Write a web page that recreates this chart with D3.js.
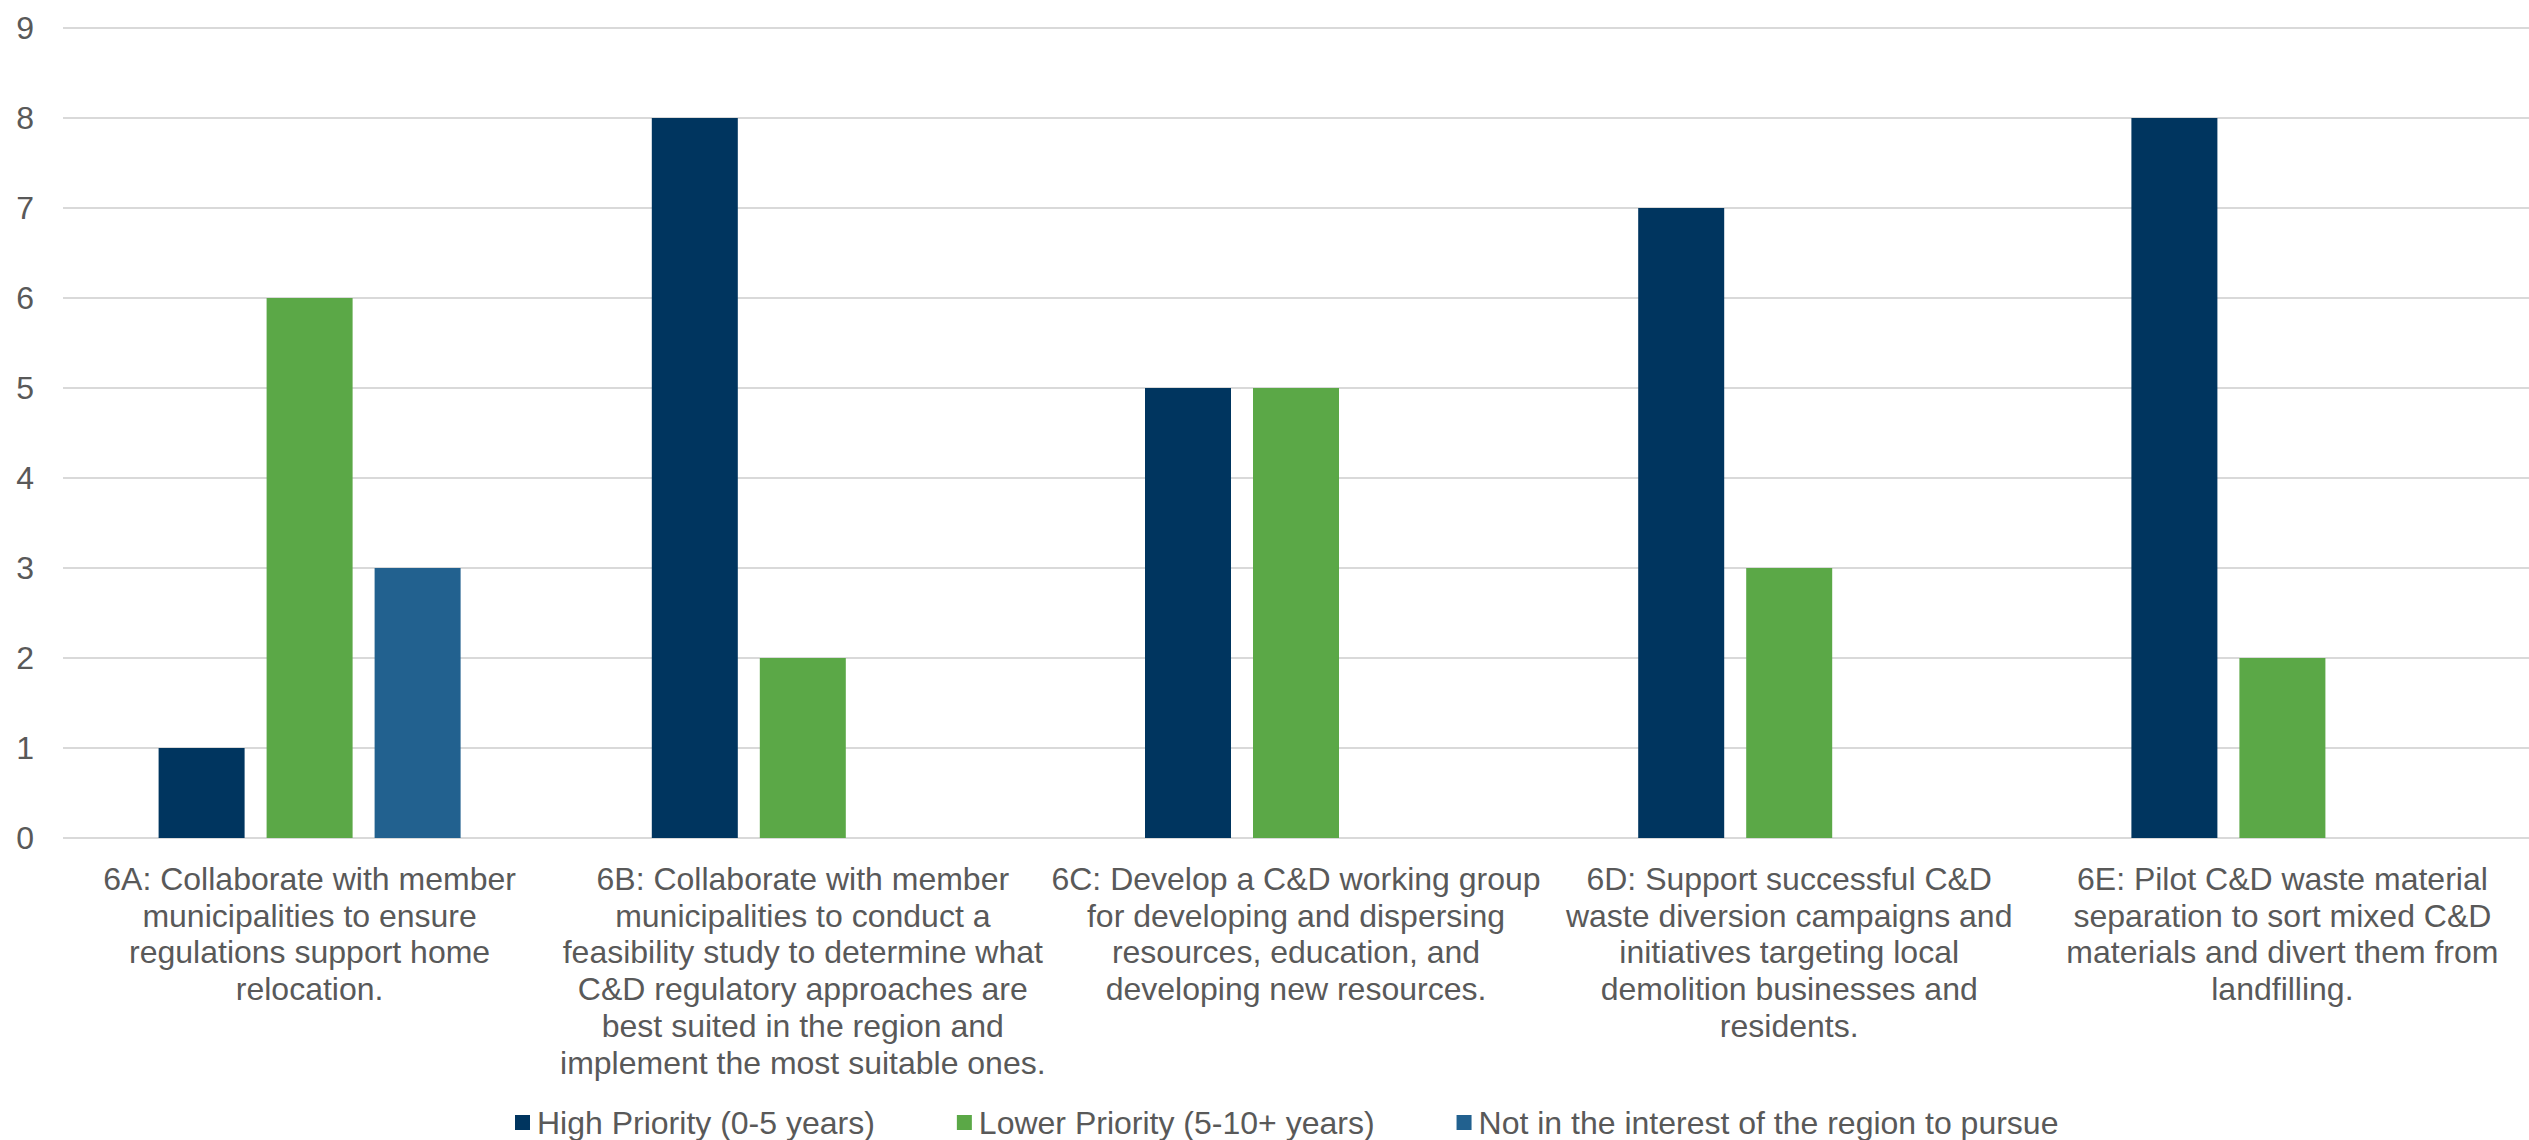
<!DOCTYPE html>
<html>
<head>
<meta charset="utf-8">
<script src="https://cdn.jsdelivr.net/npm/d3@7"></script>
<style>
  html, body { margin: 0; padding: 0; background: #fff; }
  svg { display: block; }
  text { font-family: "Liberation Sans", Arial, sans-serif; fill: #595959; }
</style>
</head>
<body>
<svg id="chart" width="2529" height="1140"></svg>
<script>
// Categories (label lines as wrapped in the original)
const categories = ["6A", "6B", "6C", "6D", "6E"];
const categoryLines = [
  ["6A: Collaborate with member", "municipalities to ensure", "regulations support home", "relocation."],
  ["6B: Collaborate with member", "municipalities to conduct a", "feasibility study to determine what", "C&D regulatory approaches are", "best suited in the region and", "implement the most suitable ones."],
  ["6C: Develop a C&D working group", "for developing and dispersing", "resources, education, and", "developing new resources."],
  ["6D: Support successful C&D", "waste diversion campaigns and", "initiatives targeting local", "demolition businesses and", "residents."],
  ["6E: Pilot C&D waste material", "separation to sort mixed C&D", "materials and divert them from", "landfilling."]
];

// Series
const seriesNames = ["High Priority (0-5 years)", "Lower Priority (5-10+ years)", "Not in the interest of the region to pursue"];
const highPriority = [1, 8, 5, 7, 8];
const lowerPriority = [6, 2, 5, 3, 2];
const notInterest = [3, 0, 0, 0, 0];
const seriesColors = ["#00355F", "#5BA847", "#22618F"];

const yTicks = [0, 1, 2, 3, 4, 5, 6, 7, 8, 9];

const svg = d3.select("#chart");
const plot = { left: 63, right: 2529, top: 28, bottom: 838 };
const fontSize = "32px";

let values = [highPriority, lowerPriority, notInterest];

// Scales
let x0 = d3.scaleBand().domain(categories).range([plot.left, plot.right]).padding(0);
let bw = x0.bandwidth();
let groupW = 302;
let x1 = d3.scaleBand().domain(d3.range(seriesNames.length))
  .range([(bw - groupW) / 2, (bw + groupW) / 2])
  .paddingInner(0.2037).paddingOuter(0);
let y = d3.scaleLinear().domain([0, 9]).range([plot.bottom, plot.top]);

// Grid lines
svg.append("g")
  .selectAll("line")
  .data(yTicks)
  .enter()
  .append("line")
  .attr("x1", plot.left)
  .attr("x2", plot.right)
  .attr("y1", (d) => y(d))
  .attr("y2", (d) => y(d))
  .attr("stroke", "#D9D9D9")
  .attr("stroke-width", 2);

// Y tick labels
svg.append("g")
  .selectAll("text")
  .data(yTicks)
  .enter()
  .append("text")
  .attr("x", 34)
  .attr("y", (d) => y(d))
  .attr("dy", "0.35em")
  .attr("text-anchor", "end")
  .style("font-size", fontSize)
  .text((d) => d);

// Bars
let groups = svg.append("g")
  .selectAll("g")
  .data(categories)
  .enter()
  .append("g")
  .attr("transform", (d) => `translate(${x0(d)},0)`);

groups.selectAll("rect")
  .data((d, i) => values.map((s, j) => ({ series: j, value: s[i] })))
  .enter()
  .filter((d) => d.value > 0)
  .append("rect")
  .attr("x", (d) => x1(d.series))
  .attr("width", x1.bandwidth())
  .attr("y", (d) => y(d.value))
  .attr("height", (d) => y(0) - y(d.value))
  .attr("fill", (d) => seriesColors[d.series]);

// Category labels
let labels = svg.append("g")
  .selectAll("text")
  .data(categories)
  .enter()
  .append("text")
  .attr("text-anchor", "middle")
  .attr("transform", (d) => `translate(${x0(d) + bw / 2},890)`)
  .style("font-size", fontSize);

labels.each(function(d, i) {
  d3.select(this).selectAll("tspan")
    .data(categoryLines[i])
    .enter()
    .append("tspan")
    .attr("x", 0)
    .attr("y", (t, k) => k * 36.7)
    .text((t) => t);
});

// Legend
let legend = svg.append("g").attr("transform", "translate(515,1123)");
let lx = 0;
seriesNames.forEach(function(name, i) {
  let item = legend.append("g").attr("transform", `translate(${lx},0)`);
  item.append("rect")
    .attr("x", 0).attr("y", -8)
    .attr("width", 15).attr("height", 15)
    .attr("fill", seriesColors[i]);
  let t = item.append("text")
    .attr("x", 22)
    .attr("y", 0)
    .attr("dy", "0.35em")
    .style("font-size", fontSize)
    .text(name);
  lx += 22 + t.node().getComputedTextLength() + 82;
});
</script>
</body>
</html>
